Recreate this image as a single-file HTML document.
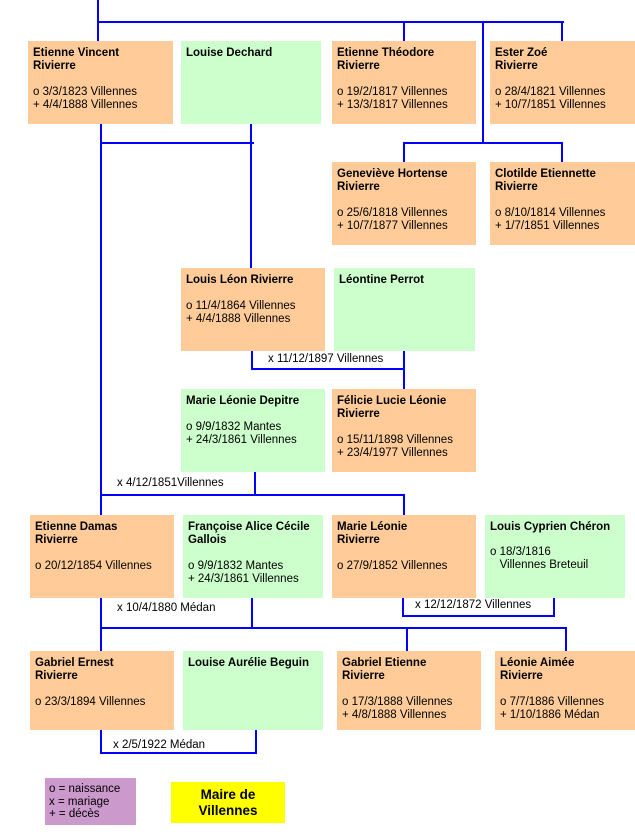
<!DOCTYPE html>
<html><head><meta charset="utf-8"><style>
body{margin:0;width:635px;height:839px;background:#fff;position:relative;overflow:hidden;font-family:"Liberation Sans",Arial,sans-serif;}
.b{position:absolute;box-sizing:border-box;padding:6px 5px 4px 5px;font-size:11.5px;line-height:13px;color:#000;white-space:nowrap;}
.o{background:#ffcc99}.g{background:#ccffcc}
.b b{font-weight:bold;}
.l{position:absolute;background:#0000ff;}
.t{position:absolute;font-size:11.5px;line-height:13px;white-space:nowrap;}
</style></head><body>
<div class="l" style="left:97px;top:0;width:2px;height:41px"></div>
<div class="l" style="left:97px;top:21px;width:467px;height:2px"></div>
<div class="l" style="left:403px;top:21px;width:2px;height:20px"></div>
<div class="l" style="left:482px;top:21px;width:2px;height:123px"></div>
<div class="l" style="left:561px;top:21px;width:2px;height:20px"></div>
<div class="l" style="left:403px;top:142px;width:160px;height:2px"></div>
<div class="l" style="left:403px;top:142px;width:2px;height:20px"></div>
<div class="l" style="left:561px;top:142px;width:2px;height:20px"></div>
<div class="l" style="left:100px;top:123px;width:2px;height:532px"></div>
<div class="l" style="left:100px;top:142px;width:154px;height:2px"></div>
<div class="l" style="left:250px;top:123px;width:2px;height:146px"></div>
<div class="l" style="left:251px;top:350px;width:2px;height:20px"></div>
<div class="l" style="left:251px;top:368px;width:154px;height:2px"></div>
<div class="l" style="left:403px;top:350px;width:2px;height:39px"></div>
<div class="l" style="left:254px;top:471px;width:2px;height:25px"></div>
<div class="l" style="left:100px;top:494px;width:305px;height:2px"></div>
<div class="l" style="left:403px;top:494px;width:2px;height:22px"></div>
<div class="l" style="left:251px;top:597px;width:2px;height:32px"></div>
<div class="l" style="left:100px;top:627px;width:467px;height:2px"></div>
<div class="l" style="left:406px;top:627px;width:2px;height:24px"></div>
<div class="l" style="left:565px;top:627px;width:2px;height:24px"></div>
<div class="l" style="left:402px;top:597px;width:2px;height:20px"></div>
<div class="l" style="left:402px;top:615px;width:153px;height:2px"></div>
<div class="l" style="left:553px;top:597px;width:2px;height:20px"></div>
<div class="l" style="left:100px;top:730px;width:2px;height:24px"></div>
<div class="l" style="left:255px;top:730px;width:2px;height:24px"></div>
<div class="l" style="left:100px;top:752px;width:157px;height:2px"></div>
<div class="t" style="left:268px;top:353px">x 11/12/1897 Villennes</div>
<div class="t" style="left:117px;top:477px">x 4/12/1851Villennes</div>
<div class="t" style="left:117px;top:602px">x 10/4/1880 Médan</div>
<div class="t" style="left:415px;top:599px">x 12/12/1872 Villennes</div>
<div class="t" style="left:113px;top:739px">x 2/5/1922 Médan</div>
<div class="b o" style="left:28px;top:41px;width:145px;height:83px"><b>Etienne Vincent<br>Rivierre</b><br><br>o 3/3/1823 Villennes<br>+ 4/4/1888 Villennes</div>
<div class="b g" style="left:181px;top:41px;width:140px;height:83px"><b>Louise Dechard</b></div>
<div class="b o" style="left:332px;top:41px;width:144px;height:83px"><b>Etienne Théodore<br>Rivierre</b><br><br>o 19/2/1817 Villennes<br>+ 13/3/1817 Villennes</div>
<div class="b o" style="left:490px;top:41px;width:145px;height:83px"><b>Ester Zoé<br>Rivierre</b><br><br>o 28/4/1821 Villennes<br>+ 10/7/1851 Villennes</div>
<div class="b o" style="left:332px;top:162px;width:144px;height:83px"><b>Geneviève Hortense<br>Rivierre</b><br><br>o 25/6/1818 Villennes<br>+ 10/7/1877 Villennes</div>
<div class="b o" style="left:490px;top:162px;width:145px;height:83px"><b>Clotilde Etiennette<br>Rivierre</b><br><br>o 8/10/1814 Villennes<br>+ 1/7/1851 Villennes</div>
<div class="b o" style="left:181px;top:268px;width:144px;height:83px"><b>Louis Léon Rivierre</b><br><br>o 11/4/1864 Villennes<br>+ 4/4/1888 Villennes</div>
<div class="b g" style="left:334px;top:268px;width:141px;height:83px"><b>Léontine Perrot</b></div>
<div class="b g" style="left:181px;top:389px;width:144px;height:83px"><b>Marie Léonie Depitre</b><br><br>o 9/9/1832 Mantes<br>+ 24/3/1861 Villennes</div>
<div class="b o" style="left:332px;top:389px;width:144px;height:83px"><b>Félicie Lucie Léonie<br>Rivierre</b><br><br>o 15/11/1898 Villennes<br>+ 23/4/1977 Villennes</div>
<div class="b o" style="left:30px;top:515px;width:144px;height:83px"><b>Etienne Damas<br>Rivierre</b><br><br>o 20/12/1854 Villennes</div>
<div class="b g" style="left:183px;top:515px;width:140px;height:83px"><b>Françoise Alice Cécile<br>Gallois</b><br><br>o 9/9/1832 Mantes<br>+ 24/3/1861 Villennes</div>
<div class="b o" style="left:332px;top:515px;width:144px;height:83px"><b>Marie Léonie<br>Rivierre</b><br><br>o 27/9/1852 Villennes</div>
<div class="b g" style="left:485px;top:515px;width:140px;height:83px"><b>Louis Cyprien Chéron</b><br><div style="height:12px"></div>o 18/3/1816<br>&nbsp;&nbsp;&nbsp;Villennes Breteuil</div>
<div class="b o" style="left:30px;top:651px;width:144px;height:79px"><b>Gabriel Ernest<br>Rivierre</b><br><br>o 23/3/1894 Villennes</div>
<div class="b g" style="left:183px;top:651px;width:140px;height:79px"><b>Louise Aurélie Beguin</b></div>
<div class="b o" style="left:337px;top:651px;width:144px;height:79px"><b>Gabriel Etienne<br>Rivierre</b><br><br>o 17/3/1888 Villennes<br>+ 4/8/1888 Villennes</div>
<div class="b o" style="left:495px;top:651px;width:140px;height:79px"><b>Léonie Aimée<br>Rivierre</b><br><br>o 7/7/1886 Villennes<br>+ 1/10/1886 Médan</div>
<div class="b" style="left:45px;top:778px;width:91px;height:47px;background:#cc99cc;padding:5px 4px;line-height:12.5px">o = naissance<br>x = mariage<br>+ = décès</div>
<div style="position:absolute;left:171px;top:782px;width:114px;height:41px;background:#ffff00;text-align:center;font-weight:bold;font-size:13.5px;line-height:16px;padding-top:5px;box-sizing:border-box">Maire de<br>Villennes</div>
</body></html>
